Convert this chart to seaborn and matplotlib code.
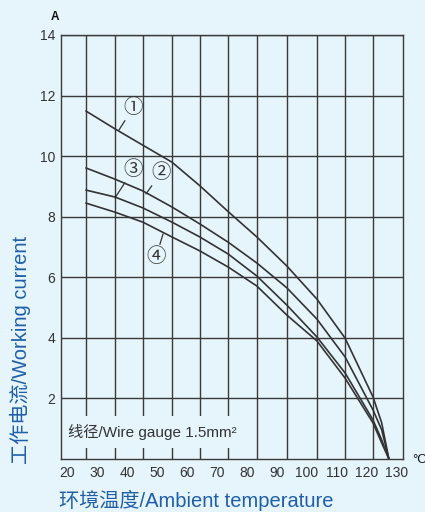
import pandas as pd
import matplotlib
matplotlib.use("Agg")
import matplotlib.pyplot as plt
import seaborn as sns

# ambient temperature (deg C), same for all curves
temps = [26.3, 36.0, 45.3, 55.0, 64.3, 73.7, 83.3, 93.3, 103.3, 112.7, 122.0, 124.9, 127.3]

# working current (A) for the four curves
curve_1 = [11.49, 10.90, 10.36, 9.80, 9.02, 8.17, 7.33, 6.37, 5.28, 3.99, 2.05, 1.19, 0.0]
curve_2 = [9.61, 9.24, 8.85, 8.32, 7.76, 7.16, 6.47, 5.65, 4.62, 3.37, 1.62, 0.96, 0.0]
curve_3 = [8.88, 8.65, 8.29, 7.82, 7.33, 6.77, 6.04, 5.08, 4.03, 2.84, 1.29, 0.63, 0.0]
curve_4 = [8.45, 8.15, 7.82, 7.33, 6.87, 6.34, 5.71, 4.75, 3.90, 2.67, 1.19, 0.53, 0.0]

curve_names = ["①", "②", "③", "④"]
x_ticks = [20, 30, 40, 50, 60, 70, 80, 90, 100, 110, 120, 130]
y_ticks = [2, 4, 6, 8, 10, 12, 14]

# vertical grid of the original drawing does not sit on the tick labels
x_grid = [26.3, 36.0, 45.3, 55.0, 64.3, 73.7, 83.3, 93.3, 103.3, 112.7, 122.0]

bg = "#e6f4fc"
blue = "#1f5fa8"
ink = "#333333"

sns.set_style("white")
plt.rcParams["font.family"] = ["Liberation Sans", "Noto Sans CJK SC", "DejaVu Sans"]

rows = []
for name, vals in zip(curve_names, [curve_1, curve_2, curve_3, curve_4]):
    for t, v in zip(temps, vals):
        rows.append({"temp": t, "current": v, "curve": name})
df = pd.DataFrame(rows)

fig = plt.figure(figsize=(4.25, 5.12), dpi=100, facecolor=bg)
ax = fig.add_axes([61/425, 53/512, 342/425, 424/512])
ax.set_facecolor(bg)

sns.lineplot(data=df, x="temp", y="current", hue="curve", palette=[ink]*4,
             estimator=None, sort=False, legend=False, linewidth=1.2, ax=ax, zorder=3)

ax.set_xlim(18, 132)
ax.set_ylim(0, 14)
ax.set_xticks(x_ticks)
ax.set_xticks(x_grid, minor=True)
ax.set_yticks(y_ticks)
ax.tick_params(axis="both", which="both", length=0, labelsize=10, labelcolor=ink)
ax.tick_params(axis="x", pad=5)
ax.tick_params(axis="y", pad=4)
ax.grid(False)
ax.xaxis.grid(True, which="minor", color="#3a3a3a", linewidth=1.0, zorder=1)
ax.yaxis.grid(True, which="major", color="#3a3a3a", linewidth=1.0, zorder=1)
for s in ax.spines.values():
    s.set_visible(True)
    s.set_color("#3a3a3a")
    s.set_linewidth(1.0)

ax.set_xlabel("环境温度/Ambient temperature", fontsize=14.5, color=blue, va="center")
ax.xaxis.set_label_coords(0.395, -0.097)
ax.set_ylabel("工作电流/Working current", fontsize=14.5, color=blue, va="center")
ax.yaxis.set_label_coords(-0.12, 0.257)

ax.text(-0.018, 1.042, "A", transform=ax.transAxes, ha="center", va="center",
        fontsize=8.5, fontweight="bold", color="#111111")
ax.text(1.026, -0.003, "°C", transform=ax.transAxes, ha="left", va="center",
        fontsize=9.5, color="#111111")

ax.text(20.3, 0.89, "线径/Wire gauge 1.5mm²", fontsize=11, color=ink, va="center",
        ha="left", zorder=2,
        bbox=dict(boxstyle="square,pad=0.5", facecolor=bg, edgecolor="none"))

# circled curve numbers with leader lines
label_pos = [(42.0, 11.59), (51.3, 9.44), (42.0, 9.54), (49.7, 6.67)]
leader_end = [(37.3, 10.86), (46.3, 8.75), (36.0, 8.62), (52.0, 7.43)]
for name, pos, end in zip(curve_names, label_pos, leader_end):
    ax.annotate(name, xy=end, xytext=pos, ha="center", va="center", fontsize=14,
                color=ink, zorder=4,
                arrowprops=dict(arrowstyle="-", color=ink, lw=0.9, shrinkA=0, shrinkB=0))

fig.savefig("out.png", dpi=100, facecolor=bg)
